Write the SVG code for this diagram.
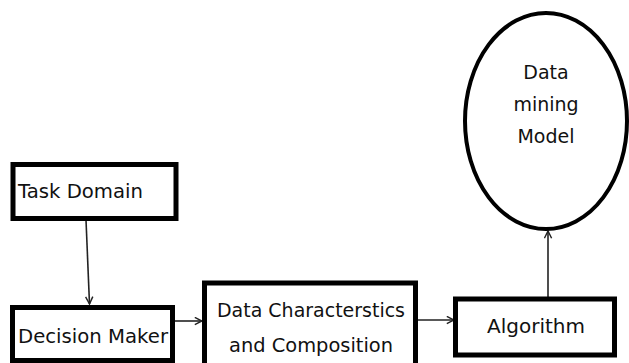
<svg xmlns="http://www.w3.org/2000/svg" width="629" height="363" viewBox="0 0 629 363">
<style>
.box{fill:#fff;stroke:#000;stroke-width:5}
.ell{fill:#fff;stroke:#000;stroke-width:4}
.lbl{font-family:"DejaVu Sans","Liberation Sans",sans-serif;font-size:19px;fill:#111}
.con{fill:none;stroke:#222;stroke-width:1.6}
</style>
<defs>
<marker id="arr" viewBox="0 0 10 10" refX="9" refY="5" markerWidth="9" markerHeight="9" markerUnits="userSpaceOnUse" orient="auto">
<path d="M1,1 L9,5 L1,9" fill="none" stroke="#222" stroke-width="1.6"/>
</marker>
</defs>
<rect width="629" height="363" fill="#fff"/>
<g id="connectors">
<line class="con" x1="86" y1="220" x2="89.5" y2="304" marker-end="url(#arr)"/>
<line class="con" x1="175" y1="321" x2="202" y2="321" marker-end="url(#arr)"/>
<line class="con" x1="418" y1="320" x2="454" y2="320" marker-end="url(#arr)"/>
<line class="con" x1="548" y1="298" x2="548" y2="231" marker-end="url(#arr)"/>
</g>
<g id="task-domain">
<rect class="box" x="13" y="164.5" width="163" height="54"/>
<text class="lbl" x="18" y="198" textLength="125" lengthAdjust="spacingAndGlyphs">Task Domain</text>
</g>
<g id="decision-maker">
<rect class="box" x="12.5" y="307.5" width="160" height="53"/>
<text class="lbl" x="18" y="343" textLength="150" lengthAdjust="spacingAndGlyphs">Decision Maker</text>
</g>
<g id="data-characteristics">
<rect class="box" x="204.5" y="283" width="211" height="90"/>
<text class="lbl" x="217" y="317" textLength="188" lengthAdjust="spacingAndGlyphs">Data Characterstics</text>
<text class="lbl" x="229" y="352" textLength="164" lengthAdjust="spacingAndGlyphs">and Composition</text>
</g>
<g id="algorithm">
<rect class="box" x="455.5" y="299" width="159" height="56"/>
<text class="lbl" x="487" y="333" textLength="98" lengthAdjust="spacingAndGlyphs">Algorithm</text>
</g>
<g id="data-mining-model">
<ellipse class="ell" cx="546" cy="121" rx="81" ry="108"/>
<text class="lbl" x="546" y="79" text-anchor="middle">Data</text>
<text class="lbl" x="546" y="111" text-anchor="middle">mining</text>
<text class="lbl" x="546" y="143" text-anchor="middle">Model</text>
</g>
</svg>
